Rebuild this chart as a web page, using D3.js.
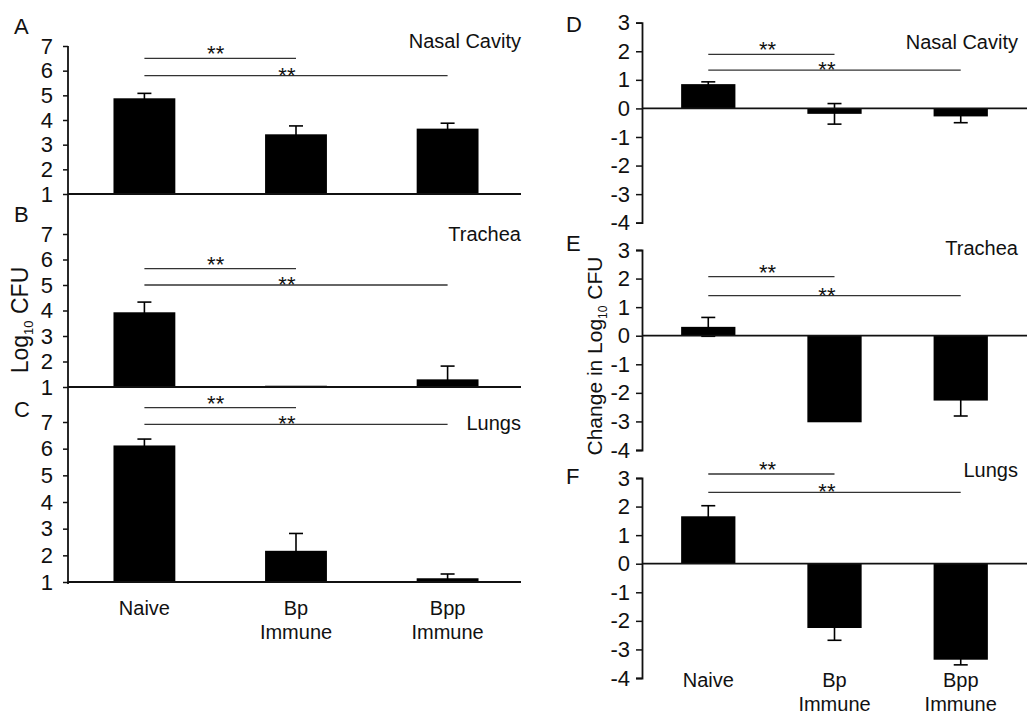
<!DOCTYPE html>
<html>
<head>
<meta charset="utf-8">
<script src="https://cdn.jsdelivr.net/npm/d3@7"></script>
<style>
  body { margin: 0; background: #fff; }
  svg text { font-family: "Liberation Sans", Arial, sans-serif; fill: #111; }
</style>
</head>
<body>
<div id="chart"></div>
<script>
// data
const categories = ['Naive', 'Bp Immune', 'Bpp Immune']
const categoryLines = [['Naive'], ['Bp', 'Immune'], ['Bpp', 'Immune']]
const organs = ['Nasal Cavity', 'Trachea', 'Lungs']
const lettersLeft = ['A', 'B', 'C']
const lettersRight = ['D', 'E', 'F']

// log10 CFU (left panels), mean and error
const logCfu = [
  [4.88, 3.42, 3.65],
  [3.93, 1.05, 1.30],
  [6.12, 2.17, 1.14]
]
const logCfuErr = [
  [0.20, 0.34, 0.22],
  [0.40, 0.00, 0.52],
  [0.24, 0.65, 0.16]
]
// change in log10 CFU (right panels)
const changeLogCfu = [
  [0.85, -0.19, -0.28],
  [0.31, -3.03, -2.27],
  [1.66, -2.25, -3.36]
]
const changeErr = [
  [0.08, 0.36, 0.22],
  [0.33, 0.00, 0.54],
  [0.37, 0.43, 0.18]
]
// significance bars: [Naive vs Bp, Naive vs Bpp] heights in data units
const sigLeft = [[6.5, 5.8], [5.64, 5.0], [7.54, 6.91]]
const sigRight = [[1.89, 1.34], [2.07, 1.4], [3.14, 2.5]]
const sigText = '**'

const leftTicks = [1, 2, 3, 4, 5, 6, 7]
const rightTicks = [-4, -3, -2, -1, 0, 1, 2, 3]

// dimensions
const width = 1027, height = 715
const svg = d3.select('#chart').append('svg')
  .attr('width', width)
  .attr('height', height)

const left = {
  axisX: 68, endX: 521,
  panels: [
    { y7: 46, base: 194, letterY: 34, titleY: 48 },
    { y7: 234, base: 387, letterY: 222, titleY: 241 },
    { y7: 422, base: 582, letterY: 417, titleY: 430 }
  ]
}
const right = {
  axisX: 642, endX: 1027,
  panels: [
    { top: 22.7, bottom: 222.7, letterY: 32, titleY: 49 },
    { top: 250, bottom: 450, letterY: 251, titleY: 255 },
    { top: 478, bottom: 678, letterY: 484, titleY: 477 }
  ]
}

// scales x
const xLeft = d3.scaleBand()
  .domain(categories)
  .range([68, 524])
  .paddingInner(0.592)
  .paddingOuter(0.3)
const xRight = d3.scaleBand()
  .domain(categories)
  .range([642, 1027])
  .paddingInner(0.57)
  .paddingOuter(0.31)

function drawBars(g, x, y, base, values, errs) {
  const bw = x.bandwidth()
  const yc = y.copy().clamp(true)
  g.selectAll('rect.bar')
    .data(values)
    .join('rect')
    .attr('class', 'bar')
    .attr('x', (d, i) => x(categories[i]))
    .attr('width', bw)
    .attr('y', d => y(Math.max(d, base)))
    .attr('height', d => Math.abs(y(d) - y(base)))
    .attr('fill', '#000')

  const capW = 7
  values.forEach((v, i) => {
    const e = errs[i]
    if (!e) return
    const cx = x(categories[i]) + bw / 2
    const y1 = yc(v - e), y2 = yc(v + e)
    const eg = g.append('g').attr('stroke', '#000').attr('stroke-width', 1.6)
    eg.append('line').attr('x1', cx).attr('x2', cx).attr('y1', y1).attr('y2', y2)
    eg.append('line').attr('x1', cx - capW).attr('x2', cx + capW).attr('y1', y1).attr('y2', y1)
    eg.append('line').attr('x1', cx - capW).attr('x2', cx + capW).attr('y1', y2).attr('y2', y2)
  })
}

function drawSig(g, x, y, levels) {
  const c = categories.map(k => x(k) + x.bandwidth() / 2)
  const pairs = [[c[0], c[1]], [c[0], c[2]]]
  const gaps = [10, 6]
  pairs.forEach((p, i) => {
    const ly = y(levels[i])
    g.append('line')
      .attr('x1', p[0]).attr('x2', p[1])
      .attr('y1', ly).attr('y2', ly)
      .attr('stroke', '#333')
      .attr('stroke-width', 1.3)
    g.append('text')
      .attr('x', p[0] + (p[1] - p[0]) * 0.47)
      .attr('y', ly - gaps[i] + 13)
      .attr('text-anchor', 'middle')
      .style('font-size', '22px')
      .text(sigText)
  })
}

// left panels
const leftG = svg.append('g')
left.panels.forEach((p, k) => {
  const y = d3.scaleLinear()
    .domain([1, 7])
    .range([p.base, p.y7])
  const g = leftG.append('g')

  drawBars(g, xLeft, y, 1, logCfu[k], logCfuErr[k])

  // baseline
  g.append('line')
    .attr('x1', left.axisX).attr('x2', left.endX)
    .attr('y1', y(1)).attr('y2', y(1))
    .attr('stroke', '#111').attr('stroke-width', 1.8)

  const yAxis = d3.axisLeft(y)
    .tickValues(leftTicks)
    .tickFormat(d => String(d))
    .tickSize(5)
    .tickSizeOuter(0)
    .tickPadding(10)
  const ag = g.append('g')
    .attr('transform', `translate(${left.axisX},0)`)
    .call(yAxis)
  ag.select('.domain').remove()
  ag.selectAll('line').attr('stroke', '#111').attr('stroke-width', 1.5)
  ag.selectAll('text').style('font-size', '22px').attr('fill', '#111')

  drawSig(g, xLeft, y, sigLeft[k])

  g.append('text')
    .attr('x', 14).attr('y', p.letterY)
    .style('font-size', '22px')
    .text(lettersLeft[k])
  g.append('text')
    .attr('x', 521).attr('y', p.titleY)
    .attr('text-anchor', 'end')
    .style('font-size', '20px')
    .text(organs[k])
})

// continuous left axis line
leftG.append('line')
  .attr('x1', left.axisX).attr('x2', left.axisX)
  .attr('y1', left.panels[0].y7).attr('y2', left.panels[2].base + 2)
  .attr('stroke', '#111').attr('stroke-width', 1.8)

// left category labels
categoryLines.forEach((lines, i) => {
  const t = leftG.append('text')
    .attr('text-anchor', 'middle')
    .style('font-size', '20px')
  lines.forEach((s, j) => {
    t.append('tspan')
      .attr('x', xLeft(categories[i]) + xLeft.bandwidth() / 2)
      .attr('y', 615 + j * 24)
      .text(s)
  })
})

// left y label
const ll = leftG.append('text')
  .attr('transform', 'translate(28,320) rotate(-90)')
  .attr('text-anchor', 'middle')
  .style('font-size', '23px')
ll.append('tspan').text('Log')
ll.append('tspan').attr('dy', 5).style('font-size', '13px').text('10')
ll.append('tspan').attr('dy', -5).text(' CFU')

// right panels
const rightG = svg.append('g')
right.panels.forEach((p, k) => {
  const y = d3.scaleLinear()
    .domain([-4, 3])
    .range([p.bottom, p.top])
  const g = rightG.append('g')

  drawBars(g, xRight, y, 0, changeLogCfu[k], changeErr[k])

  // zero line
  g.append('line')
    .attr('x1', right.axisX).attr('x2', right.endX)
    .attr('y1', y(0)).attr('y2', y(0))
    .attr('stroke', '#111').attr('stroke-width', 1.8)

  const yAxis = d3.axisLeft(y)
    .tickValues(rightTicks)
    .tickFormat(d => String(d))
    .tickSize(6)
    .tickSizeOuter(6)
    .tickPadding(6)
  const ag = g.append('g')
    .attr('transform', `translate(${right.axisX},0)`)
    .call(yAxis)
  ag.select('.domain').attr('stroke', '#111').attr('stroke-width', 1.8)
  ag.selectAll('line').attr('stroke', '#111').attr('stroke-width', 1.5)
  ag.selectAll('text').style('font-size', '22px').attr('fill', '#111')

  drawSig(g, xRight, y, sigRight[k])

  g.append('text')
    .attr('x', 566).attr('y', p.letterY)
    .style('font-size', '22px')
    .text(lettersRight[k])
  g.append('text')
    .attr('x', 1018).attr('y', p.titleY)
    .attr('text-anchor', 'end')
    .style('font-size', '20px')
    .text(organs[k])
})

// right category labels
categoryLines.forEach((lines, i) => {
  const t = rightG.append('text')
    .attr('text-anchor', 'middle')
    .style('font-size', '20px')
  lines.forEach((s, j) => {
    t.append('tspan')
      .attr('x', xRight(categories[i]) + xRight.bandwidth() / 2)
      .attr('y', 687 + j * 24)
      .text(s)
  })
})

// right y label
const rl = rightG.append('text')
  .attr('transform', 'translate(602,356) rotate(-90)')
  .attr('text-anchor', 'middle')
  .style('font-size', '21px')
rl.append('tspan').text('Change in Log')
rl.append('tspan').attr('dy', 5).style('font-size', '12px').text('10')
rl.append('tspan').attr('dy', -5).text(' CFU')
</script>
</body>
</html>
